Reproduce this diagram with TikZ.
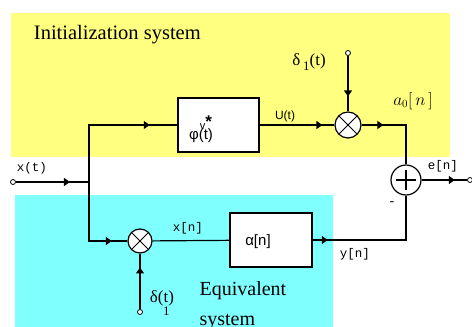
\documentclass[tikz,border=0pt]{standalone}
\usepackage{fontspec}
\setmainfont{Liberation Serif}
\newfontfamily\labfont{Liberation Mono}
\newfontfamily\symfont{Liberation Sans}
\usetikzlibrary{decorations.markings,arrows.meta}
\definecolor{initbg}{RGB}{255,255,128}
\definecolor{equivbg}{RGB}{128,255,255}

\begin{document}
\begin{tikzpicture}[x=1pt,y=-1pt,line width=1.2pt,
  block/.style={draw,fill=white,minimum height=54pt,inner sep=0pt},
  mult/.style={circle,draw,fill=white,minimum size=#1,inner sep=0pt,
    path picture={\draw[line width=0.9pt] (path picture bounding box.north west) -- (path picture bounding box.south east)
      (path picture bounding box.north east) -- (path picture bounding box.south west);}},
  adder/.style={circle,draw,fill=white,minimum size=30pt,inner sep=0pt,
    path picture={\draw ([xshift=-10pt]path picture bounding box.center) -- ([xshift=10pt]path picture bounding box.center)
      ([yshift=-10pt]path picture bounding box.center) -- ([yshift=10pt]path picture bounding box.center);}},
  port/.style={circle,draw,fill=white,minimum size=5pt,inner sep=0pt,line width=0.8pt},
  flow/.style={postaction={decorate},decoration={markings,
    mark=at position #1 with {\arrow{Triangle[length=6pt,width=8pt]}}}},
  lab/.style={font=\labfont\fontsize{12.5}{14}\selectfont,inner sep=0pt}]
\clip (0,0) rectangle (472,327);
\fill[initbg] (11,13) rectangle (450,157);
\fill[equivbg] (15,195) rectangle (333,327);

\node[anchor=west,font=\fontsize{20.5}{22}\selectfont] (init) at (30,35) {Initialization system};
\node[anchor=north west,align=left,font=\fontsize{20}{30}\selectfont,inner sep=0pt] (equiv) at (199,281) {Equivalent\\system};

\node[port] (xin) at (13,182) {};
\coordinate (j) at (89,182);
\node[block,minimum width=81pt] (phi) at (218.5,125) {};
\node[font=\symfont\fontsize{15}{17}\selectfont] (phitext) at (201,129)
  {φ\makebox[0pt][l]{\raisebox{1.3ex}{\fontsize{11}{11}\selectfont\hspace{0.1em}v\raisebox{0.3ex}{\fontsize{17}{17}\selectfont\bfseries *}}}(t)};
\node[mult=26pt] (mul1) at (348,125) {};
\node[port] (d1) at (348,53) {};
\node[adder] (sum) at (406,180) {};
\node[port] (eout) at (470,180) {};
\node[mult=24pt] (mul2) at (140,241) {};
\node[port] (d2) at (140,312) {};
\node[block,minimum width=82pt] (alpha) at (271,240) {};
\node[font=\symfont\fontsize{15}{17}\selectfont] (alphatext) at (258,242) {α[n]};

\draw[flow=0.74] (xin) -- (j);
\draw[flow=0.81] (j) |- (phi);
\draw[flow=0.84] (j) |- (mul2);
\draw[flow=0.84] (phi) -- (mul1);
\draw[flow=0.73] (d1) -- (mul1);
\draw[flow=0.26] (mul1) -| (sum);
\draw (mul2) -- (alpha);
\draw[flow=0.11] (alpha) -| (sum);
\draw[flow=0.75] (d2) -- (mul2);
\draw[flow=0.73] (sum) -- (eout);

\node[lab] (xtlab) at (32,168) {x(t)};
\node[font=\symfont\fontsize{12}{14}\selectfont] (ulab) at (285,116) {U(t)};
\node[lab] (xnlab) at (188,228) {x[n]};
\node[lab] (ynlab) at (355,254) {y[n]};
\node[lab] (enlab) at (443,166) {e[n]};
\node[font=\fontsize{14}{14}\selectfont] (minus) at (392,204) {-};
\node[font=\fontsize{16}{18}\selectfont] (a0lab) at (413,101) {$a_0\Bigl[\,n\,\Bigr]$};
\node[font=\fontsize{17}{18}\selectfont] (d1lab) at (309,62) {δ\,\raisebox{-0.6ex}{\fontsize{13}{13}\selectfont 1}(t)};
\node[font=\fontsize{17}{18}\selectfont] (d2lab) at (162,303)
  {δ\makebox[0pt][l]{\raisebox{-0.8em}{\fontsize{13}{13}\selectfont\hspace{0.4em}1}}(t)};
\end{tikzpicture}
\end{document}
